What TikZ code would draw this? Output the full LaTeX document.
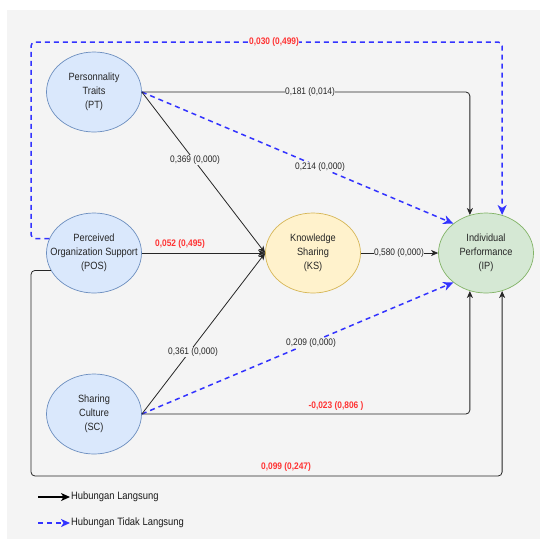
\documentclass[tikz,border=0pt]{standalone}
\usepackage{fontspec}
\setmainfont{Liberation Sans}[FakeStretch=0.88]
\usetikzlibrary{arrows.meta,shapes.geometric}
\definecolor{bg}{HTML}{F4F4F4}
\definecolor{bluefill}{HTML}{DAE8FC}
\definecolor{bluedraw}{HTML}{6C8EBF}
\definecolor{yelfill}{HTML}{FFF2CC}
\definecolor{yeldraw}{HTML}{D6B656}
\definecolor{grnfill}{HTML}{D5E8D4}
\definecolor{grndraw}{HTML}{82B366}
\definecolor{dashblue}{HTML}{3333FF}
\definecolor{coefred}{HTML}{FF3333}
\begin{document}
\begin{tikzpicture}[x=1pt,y=-1pt,
  var/.style={ellipse, draw, line width=0.7pt, minimum width=95pt, minimum height=80pt, inner sep=0pt},
  vtext/.style={align=center, font=\fontsize{10.5}{14}\selectfont, text=black!85, inner sep=0pt},
  direct/.style={draw=black!85, line width=0.8pt, -{Stealth[length=7pt,width=6pt,inset=2pt]}, rounded corners=4pt},
  indirect/.style={draw=dashblue, line width=1.5pt, dash pattern=on 5pt off 4pt, -{Stealth[length=10pt,width=9pt,inset=3pt]}, rounded corners=4pt},
  coef/.style={font=\fontsize{9.5}{10}\selectfont, fill=bg, inner sep=0.6pt, text=black!85},
  coefr/.style={font=\bfseries\fontsize{9.5}{10}\selectfont, text=coefred, inner sep=0.6pt},
  legtext/.style={font=\fontsize{10.7}{11}\selectfont, text=black!90, anchor=west, inner sep=0pt}
]
\useasboundingbox (0,0) rectangle (540,539);
\fill[bg] (7,10) rectangle (540,539);

% variables
\node[var, fill=bluefill, draw=bluedraw, label={[vtext]center:{Personnality\\Traits\\(PT)}}] (PT) at (94,92) {};
\node[var, fill=bluefill, draw=bluedraw, label={[vtext]center:{Perceived\\Organization Support\\(POS)}}] (POS) at (94,253) {};
\node[var, fill=bluefill, draw=bluedraw, label={[vtext]center:{Sharing\\Culture\\(SC)}}] (SC) at (94,414) {};
\node[var, fill=yelfill, draw=yeldraw, label={[vtext]center:{Knowledge\\Sharing\\(KS)}}] (KS) at (313,253) {};
\node[var, fill=grnfill, draw=grndraw, label={[vtext]center:{Individual\\Performance\\(IP)}}] (IP) at (486,253) {};

% corner coordinates
\coordinate (tl) at (31,42);
\coordinate (bl) at (31,476);

% indirect paths
\draw[indirect] (POS.162) -| (tl) -| (IP.67);
\node[coefr, fill=bg] (c030) at (274,42) {0,030 (0,499)};
\draw[indirect] (PT.east) -- (IP.138);
\draw[indirect] (SC.east) -- (IP.222);

% direct paths
\draw[direct] (PT.east) -| (IP.113);
\node[coef] (c181) at (310,92) {0,181 (0,014)};
\draw[direct] (PT.east) -- (KS.west);
\draw[direct] (POS.east) -- (KS.west);
\draw[direct] (SC.east) -- (KS.west);
\draw[direct] (KS.east) -- (IP.west);
\draw[direct] (SC.east) -| (IP.247);
\draw[direct] (POS.202) -| (bl) -| (IP.293);

% coefficient labels
\node[coef] (c369) at (195,160) {0,369 (0,000)};
\node[coef] (c214) at (320,167) {0,214 (0,000)};
\node[coefr] (c052) at (180,244) {0,052 (0,495)};
\node[coef] (c580) at (399,253) {0,580 (0,000)};
\node[coef] (c361) at (193,352) {0,361 (0,000)};
\node[coef] (c209) at (311,343) {0,209 (0,000)};
\node[coefr] (c023) at (336,406) {-0,023 (0,806 )};
\node[coefr] (c099) at (286,467) {0,099 (0,247)};

% legend
\coordinate (la1) at (38,497);
\coordinate (lb1) at (70,497);
\coordinate (la2) at (38,523);
\coordinate (lb2) at (70,523);
\draw[draw=black, line width=1.3pt, -{Stealth[length=9pt,width=8pt,inset=2.5pt]}] (la1) -- (lb1);
\draw[draw=dashblue, line width=1.5pt, dash pattern=on 5pt off 4pt, -{Stealth[length=9pt,width=8pt,inset=2.5pt]}] (la2) -- (lb2);
\node[legtext] (leg1) at (71,497) {Hubungan Langsung};
\node[legtext] (leg2) at (71,523) {Hubungan Tidak Langsung};
\end{tikzpicture}
\end{document}
